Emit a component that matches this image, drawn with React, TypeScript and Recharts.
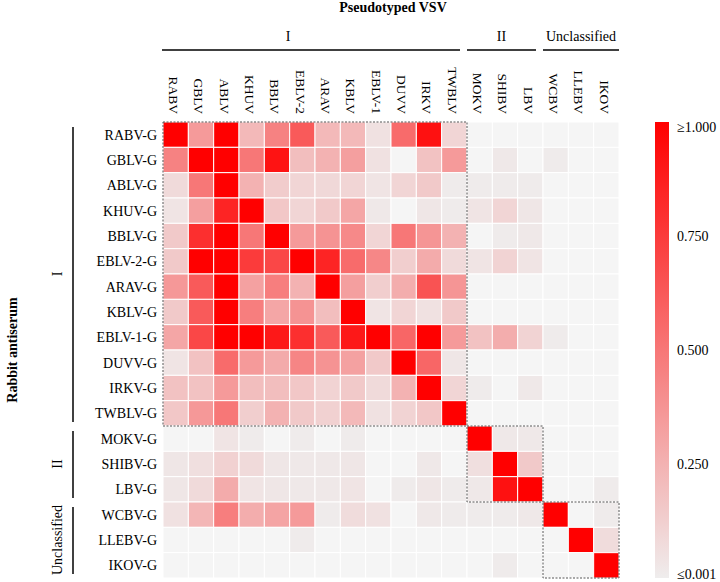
import React from "react";
import { ScatterChart, Scatter, XAxis, YAxis } from "recharts";

// ---------- data ----------
const vsvColumns = [
  "RABV", "GBLV", "ABLV", "KHUV", "BBLV", "EBLV-2", "ARAV", "KBLV", "EBLV-1",
  "DUVV", "IRKV", "TWBLV", "MOKV", "SHIBV", "LBV", "WCBV", "LLEBV", "IKOV",
];
const antiserumRows = [
  "RABV-G", "GBLV-G", "ABLV-G", "KHUV-G", "BBLV-G", "EBLV-2-G", "ARAV-G", "KBLV-G", "EBLV-1-G",
  "DUVV-G", "IRKV-G", "TWBLV-G", "MOKV-G", "SHIBV-G", "LBV-G", "WCBV-G", "LLEBV-G", "IKOV-G",
];

const rowRABV = [1, 0.35, 1, 0.22, 0.45, 0.62, 0.22, 0.22, 0.05, 0.55, 0.93, 0.1, 0, 0, 0, 0, 0, 0];
const rowGBLV = [0.45, 1, 1, 0.5, 0.92, 0.2, 0.25, 0.33, 0.05, 0, 0.18, 0.35, 0, 0.02, 0, 0.01, 0, 0];
const rowABLV = [0.08, 0.5, 1, 0.25, 0.14, 0.1, 0.09, 0.1, 0.04, 0.1, 0.15, 0.01, 0.01, 0.01, 0.01, 0, 0, 0];
const rowKHUV = [0.04, 0.33, 0.85, 1, 0.16, 0.1, 0.15, 0.3, 0.02, 0, 0.03, 0.01, 0.04, 0.1, 0.03, 0, 0, 0];
const rowBBLV = [0.15, 0.8, 1, 0.5, 1, 0.35, 0.38, 0.42, 0.1, 0.5, 0.37, 0.25, 0, 0.01, 0.02, 0, 0, 0];
const rowEBLV2 = [0.15, 1, 1, 0.75, 0.7, 1, 0.85, 0.55, 0.43, 0.13, 0.28, 0.08, 0.04, 0.11, 0.04, 0, 0, 0];
const rowARAV = [0.36, 0.62, 1, 0.32, 0.47, 0.25, 1, 0.33, 0.13, 0.27, 0.65, 0.37, 0, 0, 0, 0, 0, 0];
const rowKBLV = [0.15, 0.62, 1, 0.47, 0.3, 0.38, 0.2, 1, 0.04, 0.1, 0.05, 0.15, 0, 0, 0, 0, 0, 0];
const rowEBLV1 = [0.3, 0.7, 1, 1, 0.9, 0.8, 0.62, 0.9, 1, 0.57, 1, 0.35, 0.18, 0.27, 0.11, 0.01, 0, 0];
const rowDUVV = [0.04, 0.18, 0.55, 0.35, 0.28, 0.44, 0.38, 0.32, 0.15, 1, 0.57, 0.03, 0, 0, 0, 0, 0, 0];
const rowIRKV = [0.18, 0.18, 0.35, 0.2, 0.2, 0.16, 0.11, 0.15, 0.08, 0.25, 1, 0.1, 0.01, 0, 0.02, 0, 0, 0];
const rowTWBLV = [0.16, 0.36, 0.5, 0.13, 0.25, 0.15, 0.12, 0.22, 0.05, 0.11, 0.16, 1, 0, 0, 0, 0, 0, 0];
const rowMOKV = [0, 0, 0.04, 0.01, 0, 0.01, 0, 0.01, 0, 0, 0, 0, 1, 0.02, 0.02, 0, 0, 0];
const rowSHIBV = [0.03, 0.06, 0.12, 0.08, 0.03, 0.02, 0.02, 0.03, 0, 0, 0.02, 0, 0.06, 1, 0.15, 0, 0, 0];
const rowLBV = [0.03, 0.08, 0.28, 0.04, 0.03, 0.02, 0.02, 0.04, 0, 0.01, 0.03, 0.01, 0.02, 0.93, 1, 0, 0, 0.01];
const rowWCBV = [0.05, 0.23, 0.47, 0.27, 0.31, 0.35, 0.01, 0.07, 0.05, 0, 0.02, 0.01, 0.01, 0.01, 0.02, 1, 0, 0.01];
const rowLLEBV = [0, 0, 0, 0, 0, 0.01, 0, 0, 0, 0, 0, 0, 0, 0, 0, 0, 1, 0.07];
const rowIKOV = [0, 0, 0, 0, 0, 0, 0, 0, 0, 0, 0, 0, 0, 0.01, 0, 0, 0, 1];

const matrix = [
  rowRABV, rowGBLV, rowABLV, rowKHUV, rowBBLV, rowEBLV2, rowARAV, rowKBLV, rowEBLV1,
  rowDUVV, rowIRKV, rowTWBLV, rowMOKV, rowSHIBV, rowLBV, rowWCBV, rowLLEBV, rowIKOV,
];

const groupLabels = ["I", "II", "Unclassified"];
const groupStarts = [0, 12, 15];
const groupEnds = [11, 14, 17];
const colorbarLabels = ["\u22651.000", "0.750", "0.500", "0.250", "\u22640.001"];
const colorbarValues = [1, 0.75, 0.5, 0.25, 0];

// ---------- layout ----------
const W = 720;
const H = 582;
const M = { top: 62, right: 101, bottom: 4, left: 103 };
const XH = 60;
const YW = 60;
const PLOT_L = M.left + YW;
const PLOT_T = M.top + XH;
const PLOT_W = W - M.right - PLOT_L;
const PLOT_H = H - M.bottom - PLOT_T;
const N = vsvColumns.length;
const cellW = PLOT_W / N;
const cellH = PLOT_H / N;
const FONT = "'Liberation Serif', 'Times New Roman', serif";

function heat(v: number): string {
  if (v <= 0) return "#f5f5f5";
  const t = Math.min(1, v);
  const r = Math.round(239 + 16 * t);
  const g = Math.round(237 * (1 - t));
  return `rgb(${r},${g},${g})`;
}

const data = matrix.flatMap((row, ri) => row.map((v, ci) => ({ x: ci, y: ri, v })));
const idx = vsvColumns.map((_, i) => i);

const CellShape = (props: any) => {
  const { cx, cy, payload } = props;
  if (cx == null || cy == null) return null;
  return (
    <rect
      x={cx - cellW / 2}
      y={cy - cellH / 2}
      width={cellW}
      height={cellH}
      fill={heat(payload.v)}
      stroke="#ffffff"
      strokeWidth={1}
    />
  );
};

const ColTick = (props: any) => {
  const { x, payload } = props;
  const yy = PLOT_T - 8;
  return (
    <text
      x={x - 2}
      y={yy}
      transform={`rotate(90, ${x - 2}, ${yy})`}
      textAnchor="end"
      dy="0.35em"
      fontFamily={FONT}
      fontSize={13.5}
      fill="#000"
    >
      {vsvColumns[payload.value]}
    </text>
  );
};

const RowTick = (props: any) => {
  const { y, payload } = props;
  return (
    <text x={PLOT_L - 6} y={y} dy="0.35em" textAnchor="end" fontFamily={FONT} fontSize={14} fill="#000">
      {antiserumRows[payload.value]}
    </text>
  );
};

const Overlay = () => {
  const cbX = 655;
  const cbW = 14;
  const stops = Array.from({ length: 21 }, (_, i) => i / 20);
  const labelX = [288, null, null];
  return (
    <svg width={W} height={H} style={{ position: "absolute", left: 0, top: 0, pointerEvents: "none" }}>
      <defs>
        <linearGradient id="cbGrad" x1="0" y1="0" x2="0" y2="1">
          {stops.map((s) => (
            <stop key={s} offset={s} stopColor={heat(Math.max(0.001, 1 - s))} />
          ))}
        </linearGradient>
      </defs>
      {/* dashed group boxes */}
      {groupLabels.map((g, i) => {
        const x = PLOT_L + groupStarts[i] * cellW;
        const y = PLOT_T + groupStarts[i] * cellH;
        const w = (groupEnds[i] - groupStarts[i] + 1) * cellW;
        const h = (groupEnds[i] - groupStarts[i] + 1) * cellH;
        return (
          <rect
            key={"box" + g}
            x={x}
            y={y}
            width={w}
            height={h}
            fill="none"
            stroke="#555"
            strokeWidth={1}
            strokeDasharray="2 1.5"
          />
        );
      })}
      {/* title */}
      <text x={393} y={12} textAnchor="middle" fontFamily={FONT} fontWeight="bold" fontSize={14}>
        Pseudotyped VSV
      </text>
      {/* column groups */}
      {groupLabels.map((g, i) => {
        const x1 = PLOT_L + groupStarts[i] * cellW - (i === 0 ? 1 : 0);
        const x2 = PLOT_L + (groupEnds[i] + 1) * cellW - (i === groupLabels.length - 1 ? 0 : 7);
        const cx = labelX[i] ?? (x1 + x2) / 2;
        return (
          <g key={g}>
            <line x1={x1} x2={x2} y1={50} y2={50} stroke="#000" strokeWidth={1.5} />
            <text x={cx} y={36} dy="0.35em" textAnchor="middle" fontFamily={FONT} fontSize={14}>
              {g}
            </text>
          </g>
        );
      })}
      {/* row groups */}
      {groupLabels.map((g, i) => {
        const y1 = PLOT_T + groupStarts[i] * cellH + 5;
        const y2 = PLOT_T + (groupEnds[i] + 1) * cellH - 4;
        const cy = (PLOT_T + groupStarts[i] * cellH + PLOT_T + (groupEnds[i] + 1) * cellH) / 2;
        return (
          <g key={"r" + g}>
            <line x1={73} x2={73} y1={y1} y2={y2} stroke="#000" strokeWidth={1.5} />
            <text
              x={57}
              y={cy}
              dy="0.35em"
              transform={`rotate(-90, 57, ${cy})`}
              textAnchor="middle"
              fontFamily={FONT}
              fontSize={14}
            >
              {g}
            </text>
          </g>
        );
      })}
      {/* y axis title */}
      <text
        x={12}
        y={PLOT_T + PLOT_H / 2}
        dy="0.35em"
        transform={`rotate(-90, 12, ${PLOT_T + PLOT_H / 2})`}
        textAnchor="middle"
        fontFamily={FONT}
        fontWeight="bold"
        fontSize={14}
      >
        Rabbit antiserum
      </text>
      {/* colorbar */}
      <rect x={cbX} y={PLOT_T} width={cbW} height={PLOT_H} fill="url(#cbGrad)" />
      {colorbarLabels.map((l, i) => {
        let yy = PLOT_T + (1 - colorbarValues[i]) * PLOT_H;
        if (i === 0) yy += 5;
        if (i === colorbarLabels.length - 1) yy -= 4;
        return (
          <text key={l} x={677} y={yy} dy="0.35em" fontFamily={FONT} fontSize={14}>
            {l}
          </text>
        );
      })}
    </svg>
  );
};

export default function App() {
  return (
    <div style={{ position: "absolute", left: 0, top: 0, width: W, height: H, background: "#fff" }}>
      <ScatterChart width={W} height={H} margin={M}>
        <XAxis
          type="number"
          dataKey="x"
          domain={[-0.5, N - 0.5]}
          ticks={idx}
          interval={0}
          orientation="top"
          height={XH}
          axisLine={false}
          tickLine={false}
          tick={<ColTick />}
        />
        <YAxis
          type="number"
          dataKey="y"
          domain={[-0.5, N - 0.5]}
          reversed
          ticks={idx}
          interval={0}
          width={YW}
          axisLine={false}
          tickLine={false}
          tick={<RowTick />}
        />
        <Scatter data={data} shape={CellShape} isAnimationActive={false} />
      </ScatterChart>
      <Overlay />
    </div>
  );
}
